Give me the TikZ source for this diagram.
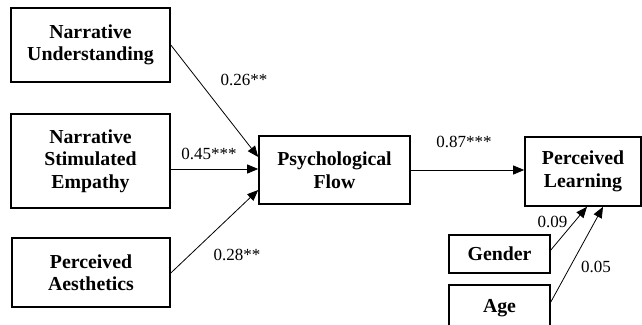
\documentclass[tikz,border=0pt]{standalone}
\usepackage{fontspec}
\setmainfont{Liberation Serif}
\usetikzlibrary{arrows.meta}

\begin{document}
\begin{tikzpicture}[x=1pt, y=1pt,
                    line width=1.6pt,
                    font=\fontsize{19.8}{22.5}\selectfont\bfseries,
                    ]
    \tikzstyle{construct}=[draw, align=center, inner sep=2pt]
    \tikzstyle{control}=[construct]
    \tikzstyle{path}=[line width=0.8pt, -{Triangle[length=11pt,width=9pt]}]
    \tikzstyle{coef}=[font=\fontsize{17}{20}\selectfont, inner sep=1pt]

    \useasboundingbox (0,0) rectangle (642,-324);

    % predictors
    \node[construct, minimum width=159pt, minimum height=74pt] (nu)  at (90.5,-45)  {Narrative\\Understanding};
    \node[construct, minimum width=159pt, minimum height=94pt] (nse) at (90.5,-161) {Narrative\\Stimulated\\Empathy};
    \node[construct, minimum width=158pt, minimum height=69pt] (pa)  at (91,-272.5) {Perceived\\Aesthetics};

    % mediator and outcome
    \node[construct, minimum width=151pt, minimum height=68pt] (flow)  at (334.5,-170) {Psychological\\Flow};
    \node[construct, minimum width=116pt, minimum height=69pt] (learn) at (583,-171.5)  {Perceived\\Learning};

    % controls
    \node[control, minimum width=101pt, minimum height=38pt] (gender) at (499.5,-254) {Gender};
    \node[control, minimum width=101pt, minimum height=46pt] (age)    at (499.5,-308) {Age};

    \draw[path] (nu.east) -- ([yshift=13pt]flow.west);
    \draw[path] ([yshift=-8pt]nse.east) -- ([yshift=1pt]flow.west);
    \draw[path] ([yshift=-0.5pt]pa.east) -- ([yshift=-20pt]flow.west);
    \draw[path] (flow.east) -- ([yshift=1.5pt]learn.west);
    \draw[path] ([yshift=4pt]gender.east) -- ([xshift=4pt]learn.south);
    \draw[path] ([yshift=6pt]age.east) -- ([xshift=20pt]learn.south);

    \node[coef] (c1) at (244,-80)  {0.26**};
    \node[coef] (c2) at (209,-154) {0.45***};
    \node[coef] (c3) at (237,-255) {0.28**};
    \node[coef] (c4) at (464,-142) {0.87***};
    \node[coef] (c5) at (552.5,-222) {0.09};
    \node[coef] (c6) at (596,-267) {0.05};
\end{tikzpicture}
\end{document}
